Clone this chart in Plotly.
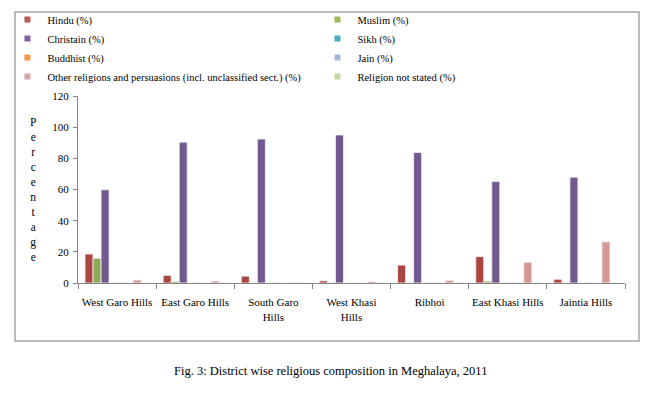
import plotly.graph_objects as go

districts = ["West Garo Hills", "East Garo Hills", "South Garo<br>Hills", "West Khasi<br>Hills",
             "Ribhoi", "East Khasi Hills", "Jaintia Hills"]

series_names = ["Hindu (%)", "Muslim (%)", "Christain (%)", "Sikh (%)", "Buddhist (%)", "Jain (%)",
                "Other religions and persuasions (incl. unclassified sect.) (%)", "Religion not stated (%)"]

hindu = [18.6, 4.9, 4.4, 1.4, 11.5, 16.9, 2.4]
muslim = [15.9, 1.0, 0.3, 0.2, 0.4, 1.2, 0.3]
christian = [59.8, 90.4, 92.4, 95.0, 83.8, 65.1, 67.9]
sikh = [0.05, 0.02, 0.02, 0.02, 0.05, 0.1, 0.02]
buddhist = [0.1, 0.1, 0.1, 0.05, 0.1, 0.4, 0.1]
jain = [0.02, 0.01, 0.01, 0.01, 0.02, 0.05, 0.02]
other = [1.9, 1.3, 0.4, 0.9, 1.7, 13.3, 26.4]
not_stated = [0.2, 0.3, 0.3, 0.2, 0.4, 0.5, 0.3]

values = [hindu, muslim, christian, sikh, buddhist, jain, other, not_stated]
bar_colors = ["#AB4542", "#8DAA56", "#725A91", "#4BACC6", "#F79646", "#98AED6", "#D69694", "#C3D69B"]
legend_colors = ["#B95956", "#9BBB59", "#8064A2", "#4BACC6", "#F79646", "#A5B6D8", "#D9A5A3", "#C3D69B"]

fig = go.Figure()
for name, vals, col in zip(series_names, values, bar_colors):
    fig.add_trace(go.Bar(x=districts, y=vals, name=name, marker=dict(color=col, line=dict(color="#F2F2F2", width=0.8)),
                         showlegend=False))
for name, col in zip(series_names, legend_colors):
    fig.add_trace(go.Scatter(x=[None], y=[None], mode="markers", name=name,
                             marker=dict(symbol="square", size=6, color=col)))

serif = "Liberation Serif"
fig.update_layout(
    width=656, height=400,
    margin=dict(l=70, r=39, t=88, b=125, autoexpand=False),
    paper_bgcolor="white", plot_bgcolor="white",
    barmode="group", bargap=0.18, bargroupgap=0,
    font=dict(family=serif, size=11, color="black"),
    legend=dict(orientation="h", x=-0.129, xanchor="left", y=1.486, yanchor="top",
                entrywidth=265, entrywidthmode="pixels", itemwidth=30,
                font=dict(family=serif, size=10.5, color="black"), bgcolor="rgba(0,0,0,0)",
                itemsizing="trace"),
    xaxis=dict(showline=True, linecolor="#868686", linewidth=1, ticks="outside", tickson="boundaries",
               ticklen=5, tickcolor="#868686", tickfont=dict(family=serif, size=11), showgrid=False,
               tickangle=0, ticklabelstandoff=9),
    yaxis=dict(range=[0, 120], dtick=20, showline=True, linecolor="#868686", linewidth=1, ticks="outside",
               ticklen=4, tickcolor="#868686", tickfont=dict(family=serif, size=11), showgrid=False,
               zeroline=False, ticklabelstandoff=2),
    shapes=[dict(type="rect", xref="paper", yref="paper", x0=-0.1152, x1=1.0256, y0=-0.310, y1=1.449,
                 line=dict(color="#A6A6A6", width=1.5), fillcolor="rgba(0,0,0,0)", layer="below")],
    annotations=[
        dict(text="<br>".join(list("Percentage")), xref="paper", yref="paper", x=-0.082, y=0.5,
             xanchor="center", yanchor="middle", showarrow=False,
             font=dict(family=serif, size=11.5, color="black")),
        dict(text="Fig. 3: District wise religious composition in Meghalaya, 2011", xref="paper", yref="paper",
             x=(330 - 78) / 547, y=(283 - 371) / 187, xanchor="center", yanchor="middle", showarrow=False,
             font=dict(family=serif, size=12.5, color="black")),
    ],
)
fig.write_html("out.html")
